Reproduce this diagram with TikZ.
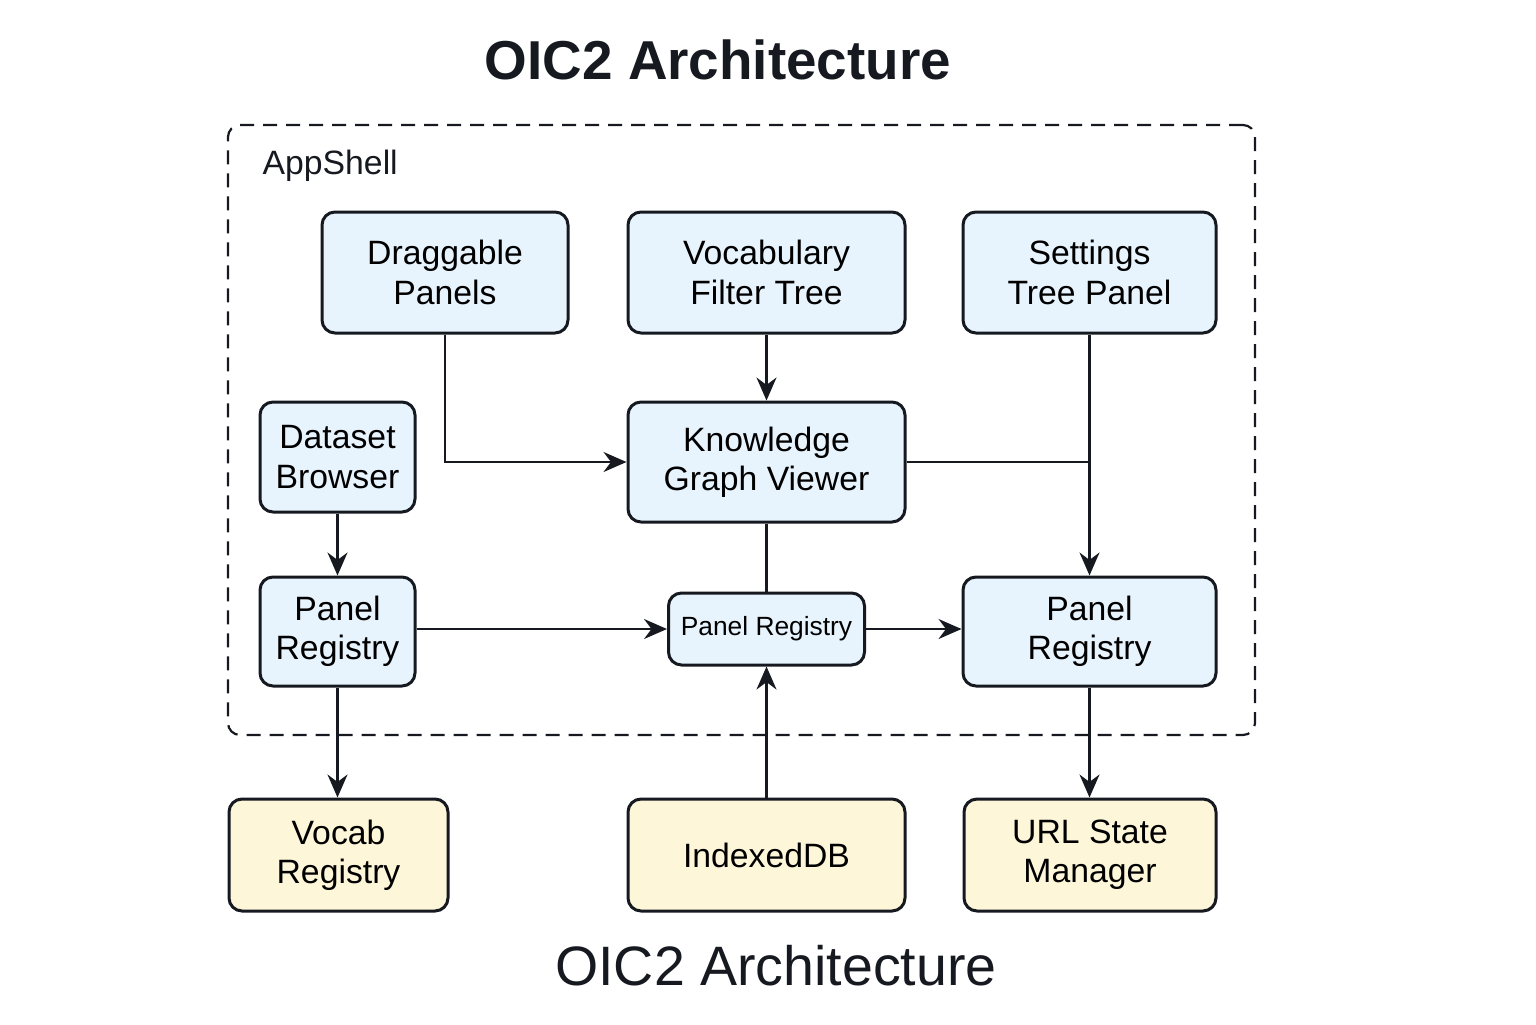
\documentclass[tikz,border=0pt]{standalone}
\usepackage{fontspec}
\setmainfont{Liberation Sans}
\usepackage{xcolor}
\usetikzlibrary{arrows.meta}

\definecolor{boxblue}{HTML}{E8F4FD}
\definecolor{boxyellow}{HTML}{FDF6D8}
\definecolor{ink}{HTML}{161A20}

\tikzset{
	blubox/.style={draw=ink, fill=boxblue, rounded corners=1.3mm, line width=0.3mm, align=center, inner sep=0pt, font=\fontsize{9.6}{11.2}\selectfont},
	yelbox/.style={blubox, fill=boxyellow},
	arr/.style={-{Stealth[length=2.3mm,width=2mm]}, line width=0.22mm, color=ink},
	lnk/.style={line width=0.22mm, color=ink}
}

\begin{document}
\begin{tikzpicture}
		\useasboundingbox (0,0) rectangle (15.36,-10.24);

		\node[font=\fontsize{15.6}{18}\selectfont\bfseries, text=ink] (ttop) at (7.18,-0.60) {OIC2 Architecture};

		\node[draw=ink, dash pattern=on 1.4mm off 0.9mm, rounded corners=1.2mm, line width=0.22mm, minimum width=10.27cm, minimum height=6.10cm] (shell) at (7.415,-4.30) {};
		\node[anchor=west, inner sep=0pt, font=\fontsize{9.6}{11}\selectfont, text=ink] (shlab) at (2.62,-1.66) {AppShell};

		\node[blubox, minimum width=2.46cm, minimum height=1.21cm] (drag) at (4.45,-2.725) {Draggable\\Panels};
		\node[blubox, minimum width=2.77cm, minimum height=1.21cm] (voc) at (7.665,-2.725) {Vocabulary\\Filter Tree};
		\node[blubox, minimum width=2.53cm, minimum height=1.21cm] (set) at (10.895,-2.725) {Settings\\Tree Panel};

		\node[blubox, minimum width=1.55cm, minimum height=1.10cm] (data) at (3.375,-4.57) {Dataset\\Browser};
		\node[blubox, minimum width=2.77cm, minimum height=1.20cm] (kgv) at (7.665,-4.62) {Knowledge\\Graph Viewer};

		\node[blubox, minimum width=1.55cm, minimum height=1.09cm] (reg1) at (3.375,-6.315) {Panel\\Registry};
		\node[blubox, minimum width=1.96cm, minimum height=0.72cm, font=\fontsize{7.5}{9}\selectfont] (reg2) at (7.665,-6.29) {Panel Registry};
		\node[blubox, minimum width=2.53cm, minimum height=1.09cm] (reg3) at (10.895,-6.315) {Panel\\Registry};

		\node[yelbox, minimum width=2.19cm, minimum height=1.12cm] (vreg) at (3.385,-8.55) {Vocab\\Registry};
		\node[yelbox, minimum width=2.77cm, minimum height=1.12cm] (idb) at (7.665,-8.55) {IndexedDB};
		\node[yelbox, minimum width=2.52cm, minimum height=1.12cm] (url) at (10.90,-8.55) {URL State\\Manager};

		\node[font=\fontsize{15.8}{18}\selectfont, text=ink] (tbot) at (7.76,-9.66) {OIC2 Architecture};

		\draw[arr] (drag.south) |- (kgv.west);
		\draw[arr] (voc.south) -- (kgv.north);
		\draw[arr] (set.south) -- (reg3.north);
		\draw[lnk] (kgv.east) -- (kgv.east -| set.south);

		\draw[arr] (data.south) -- (reg1.north);
		\draw[lnk] (kgv.south) -- (reg2.north);
		\draw[arr] (reg1.east |- reg2.west) -- (reg2.west);
		\draw[arr] (reg2.east) -- (reg3.west |- reg2.east);

		\draw[arr] (reg1.south) -- (reg1.south |- vreg.north);
		\draw[arr] (idb.north) -- (reg2.south);
		\draw[arr] (reg3.south) -- (reg3.south |- url.north);
	\end{tikzpicture}
\end{document}
